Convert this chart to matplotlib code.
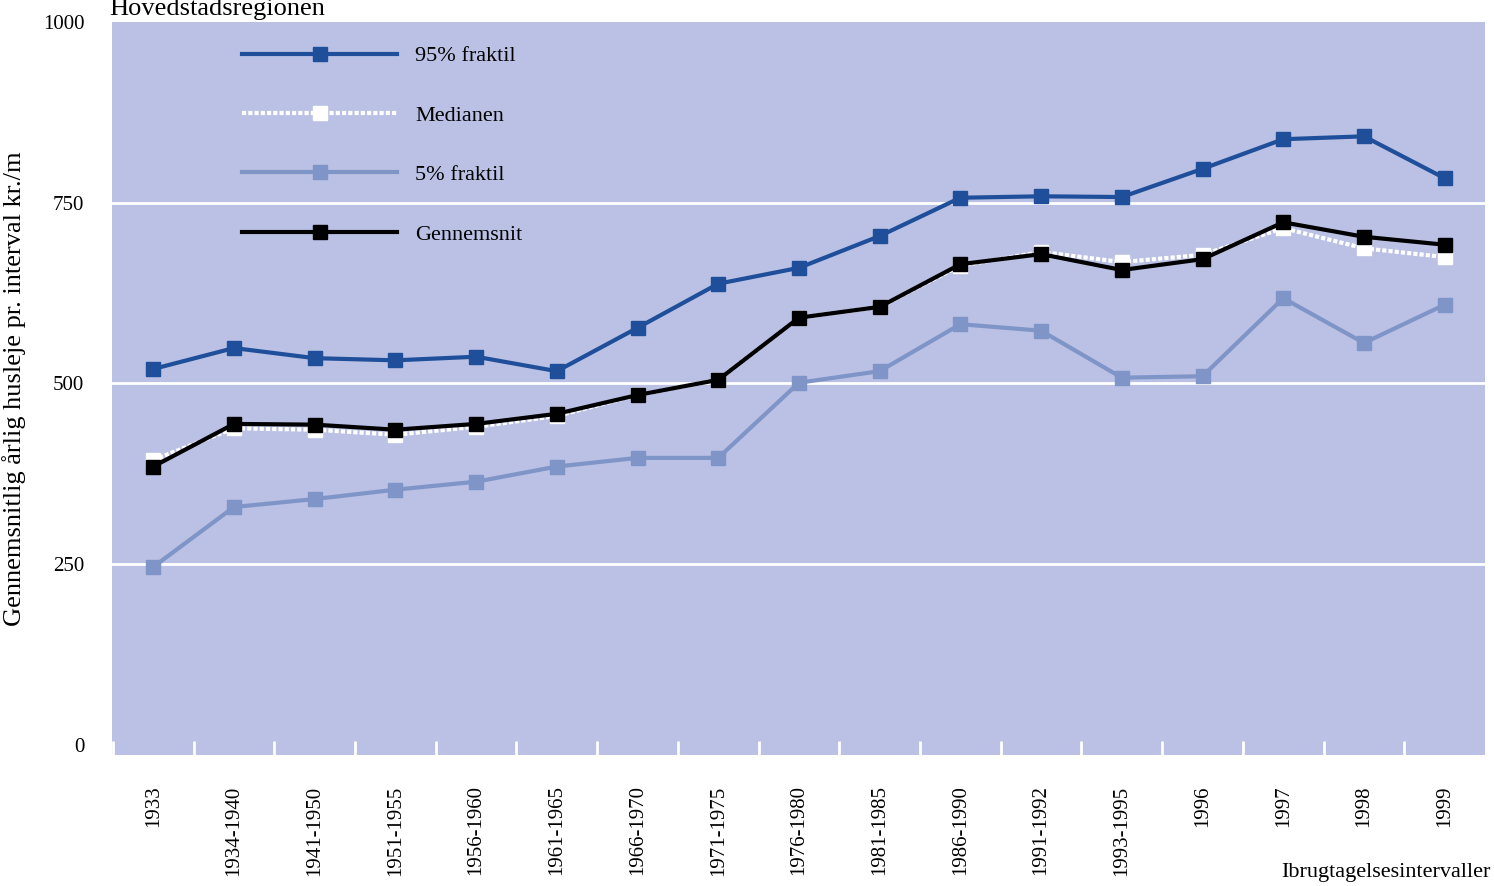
import numpy as np
import matplotlib.pyplot as plt

plt.rcParams['font.family'] = ['Liberation Serif', 'DejaVu Serif']

categories = ["1933", "1934-1940", "1941-1950", "1951-1955", "1956-1960", "1961-1965",
              "1966-1970", "1971-1975", "1976-1980", "1981-1985", "1986-1990", "1991-1992",
              "1993-1995", "1996", "1997", "1998", "1999"]
p95 = [520, 549, 535, 532, 537, 517, 577, 638, 660, 704, 757, 759, 758, 797, 838, 842, 784]
median = [394, 438, 436, 429, 440, 455, 484, 505, 591, 606, 663, 682, 668, 678, 715, 687, 675]
p5 = [246, 329, 340, 353, 364, 385, 397, 397, 501, 517, 582, 573, 508, 510, 618, 556, 609]
mean = [385, 444, 443, 436, 444, 458, 484, 505, 591, 606, 665, 679, 657, 672, 723, 703, 692]

fig = plt.figure(figsize=(14.94, 8.86), dpi=100)
ax = fig.add_axes([0.075, 0.148, 0.919, 0.827])
ax.set_facecolor('#bac1e4')
x = np.arange(len(categories))

for yv in [250, 500, 750]:
    ax.axhline(yv, color='white', lw=2, zorder=1)

ax.plot(x, p95, color='#1f4f9a', lw=3, marker='s', ms=10, label='95% fraktil', zorder=3)
ax.plot(x, median, color='white', lw=3, ls=(0, (1, 0.5)), marker='s', ms=10, label='Medianen', zorder=3)
ax.plot(x, p5, color='#7f95c8', lw=3, marker='s', ms=10, label='5% fraktil', zorder=3)
ax.plot(x, mean, color='black', lw=3, marker='s', ms=10, label='Gennemsnit', zorder=4)

ax.set_xlim(-0.51, 16.5)
ax.set_ylim(-14, 1000)
ax.set_yticks([0, 250, 500, 750, 1000])
ax.set_xticks(x)
ax.set_xticklabels(categories, rotation=90, fontsize=15)
ax.set_xticks(np.arange(-0.5, 16.5, 1), minor=True)
ax.tick_params(axis='x', which='major', length=0, pad=22)
ax.tick_params(axis='x', which='minor', length=10, color='white', width=2, direction='in')
ax.tick_params(axis='y', length=0, labelsize=15, pad=20)
for s in ax.spines.values():
    s.set_visible(False)

ax.set_ylabel('Gennemsnitlig årlig husleje pr. interval kr./m', fontsize=19, labelpad=12)
fig.text(0.073, 0.99, 'Hovedstadsregionen', fontsize=19, va='center')
fig.text(0.998, 0.015, 'Ibrugtagelsesintervaller', fontsize=16, ha='right', va='center')

leg = ax.legend(loc='upper left', bbox_to_anchor=(0.08, 0.995), frameon=False, fontsize=16,
                handlelength=7, labelspacing=1.75, markerfirst=True)
fig.savefig('out.png', dpi=100)
